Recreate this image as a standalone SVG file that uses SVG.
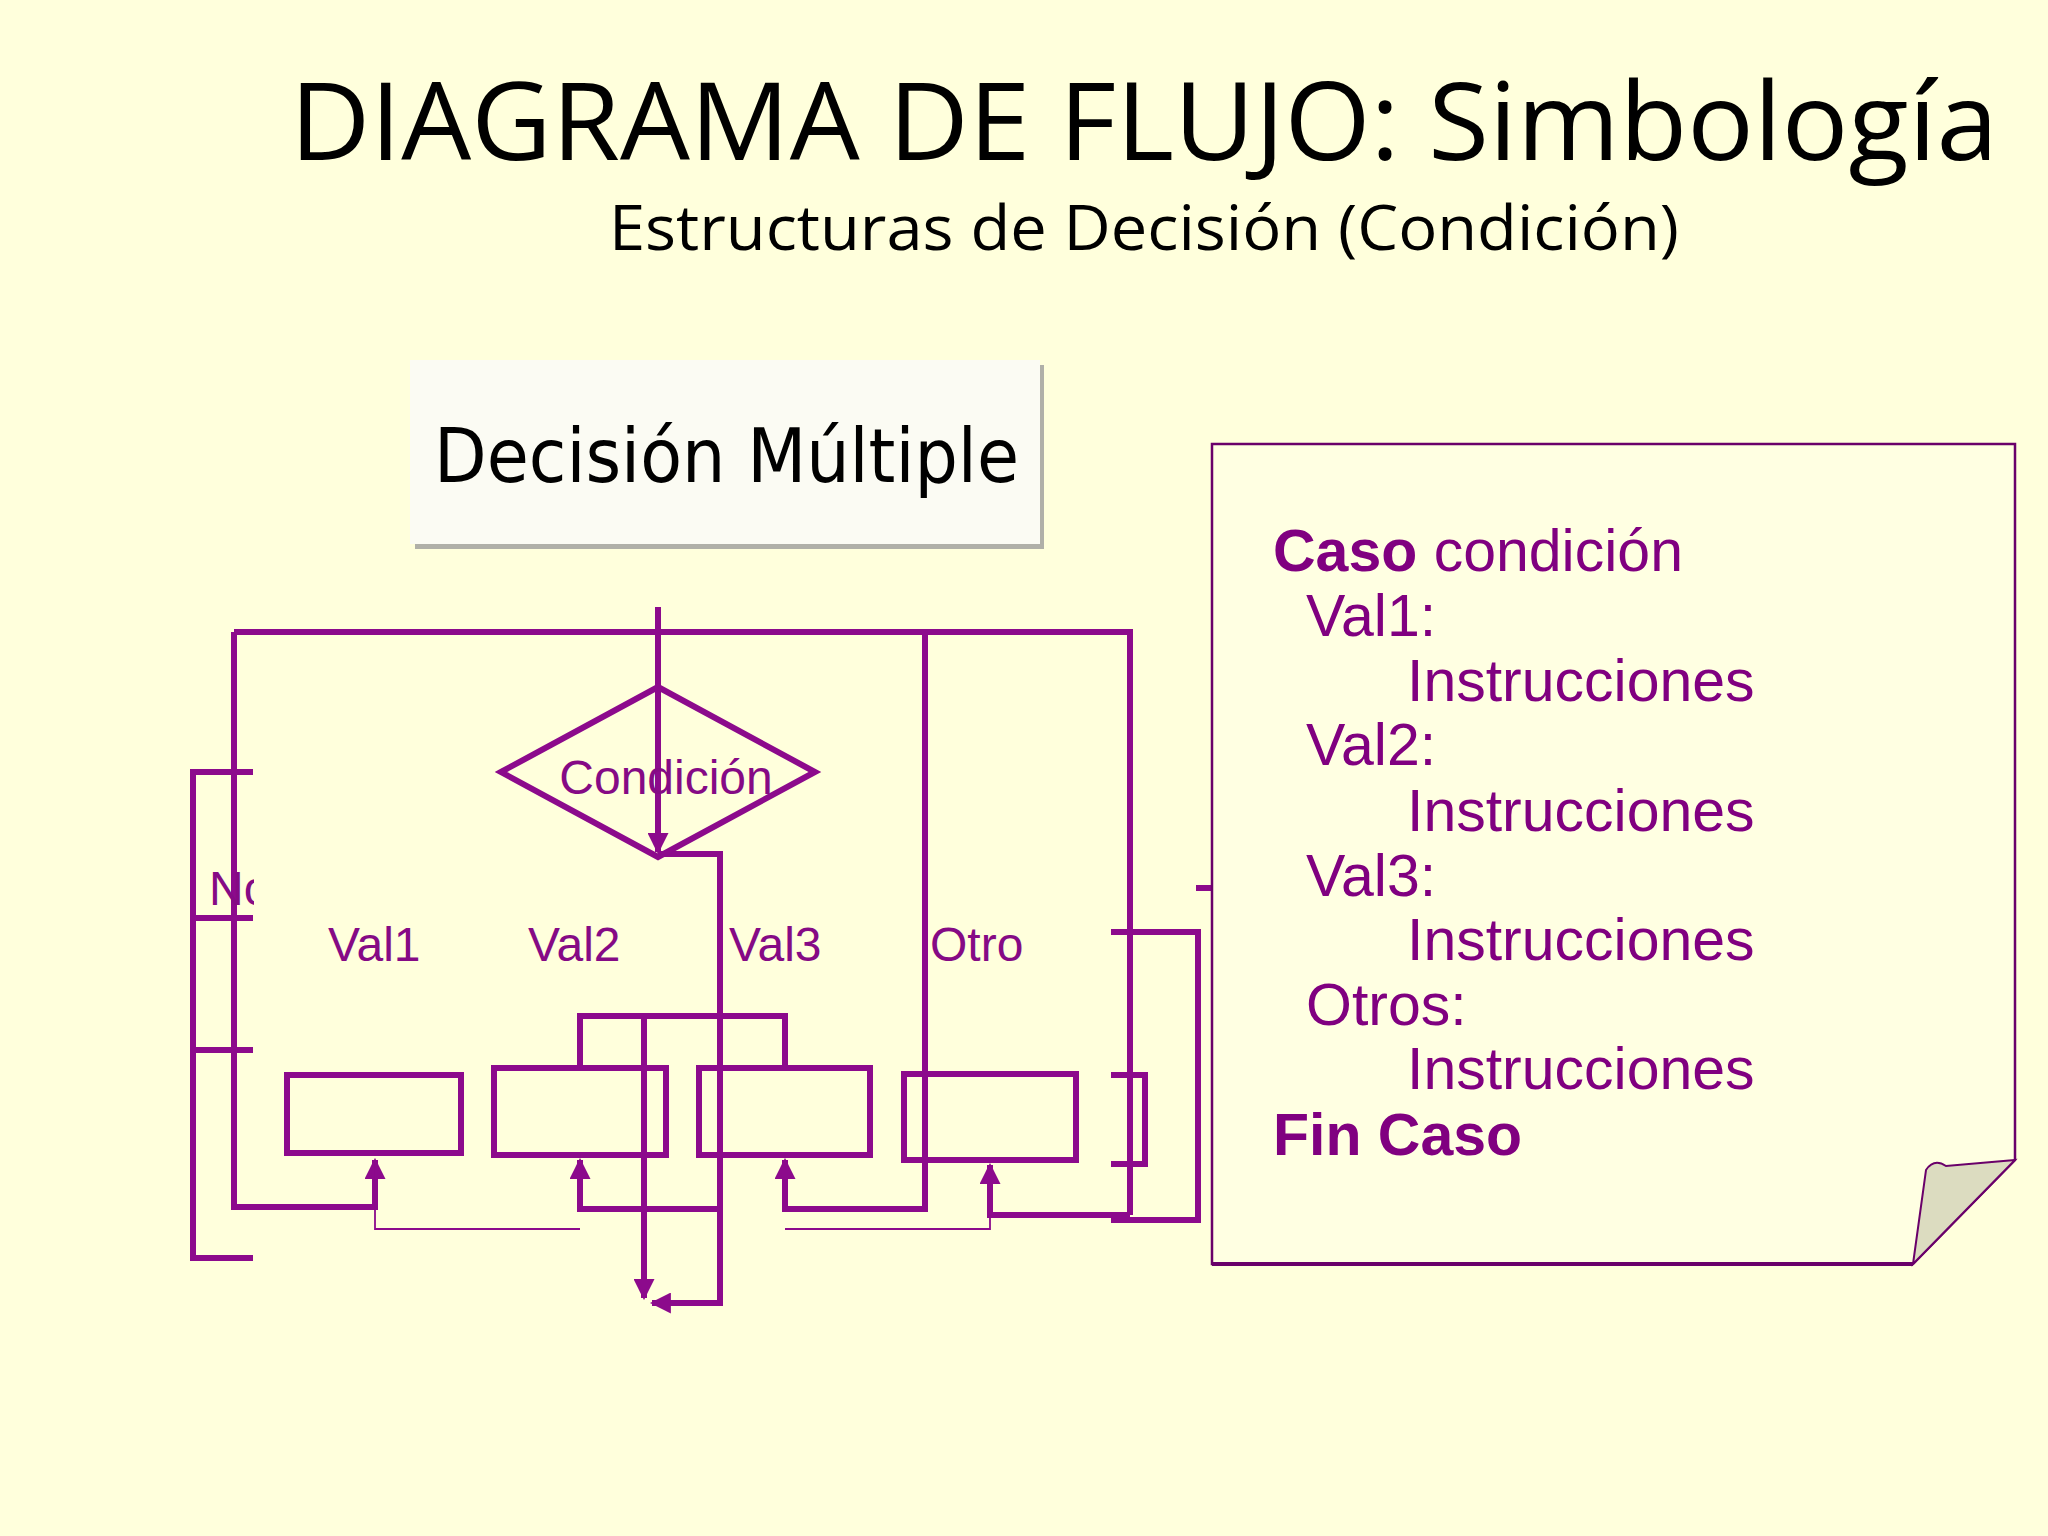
<svg xmlns="http://www.w3.org/2000/svg" width="2048" height="1536" viewBox="0 0 2048 1536">
<defs>
<style>
.l{fill:none;stroke:#8c0a8c;stroke-width:6}
.t{fill:none;stroke:#8c0a8c;stroke-width:1.8}
.p{font-family:"Liberation Sans",Arial,sans-serif;fill:#850a85;font-size:48px}
.n{font-family:"Liberation Sans",Arial,sans-serif;fill:#800080;font-size:59px}
</style>
<marker id="a" viewBox="0 0 10 10" refX="9" refY="5" markerWidth="3.5" markerHeight="3.5" orient="auto"><path d="M0,0L10,5L0,10z" fill="#8c0a8c"/></marker>
<clipPath id="c"><rect x="0" y="850" width="254" height="80"/></clipPath>
</defs>
<rect width="2048" height="1536" fill="#ffffdc"/>
<text x="290" y="160" textLength="1708" lengthAdjust="spacingAndGlyphs" font-family="'Open Sans','DejaVu Sans',sans-serif" font-size="108" fill="#000">DIAGRAMA DE FLUJO: Simbología</text>
<text x="609" y="250" textLength="1070" lengthAdjust="spacingAndGlyphs" font-family="'Open Sans','DejaVu Sans',sans-serif" font-size="62" fill="#000">Estructuras de Decisión (Condición)</text>
<g id="title-box">
<rect x="415" y="365" width="629" height="184" fill="#b0b0a8"/>
<rect x="410" y="360" width="630" height="184" fill="#fbfbf3"/>
<text x="434" y="482" textLength="585" lengthAdjust="spacingAndGlyphs" font-family="'Comic Sans MS','DejaVu Sans',sans-serif" font-size="74" fill="#000">Decisión Múltiple</text>
</g>
<g id="connectors">
<path class="l" d="M658,607V852" marker-end="url(#a)"/>
<path class="l" d="M234,632H1130V1215M925,632V1209H785V1160" marker-end="url(#a)"/>
<path class="l" d="M234,632V1207H375V1160" marker-end="url(#a)"/>
<path class="l" d="M720,1209H580V1160" marker-end="url(#a)"/>
<path class="l" d="M1130,1215H990V1165" marker-end="url(#a)"/>
<path class="l" d="M658,854H720V1303H652" marker-end="url(#a)"/>
<path class="l" d="M644,1016V1298" marker-end="url(#a)"/>
<path class="l" d="M580,1068V1016H785V1068"/>
<path class="t" d="M375,1160V1229H580M785,1229H990V1215"/>
<path class="l" d="M253,772H193V1258H253M193,918H253M193,1050H253"/>
<path class="l" d="M1111,932H1198V1220H1111M1111,1075H1145V1164H1111M1196,888H1212"/>
</g>
<g id="condicion">
<path class="l" d="M501,772L658,687L815,772L658,857Z"/>
<text class="p" x="666" y="794" text-anchor="middle">Condición</text>
</g>
<g id="boxes">
<rect class="l" x="287" y="1075" width="174" height="78"/>
<rect class="l" x="494" y="1068" width="172" height="87"/>
<rect class="l" x="699" y="1068" width="171" height="87"/>
<rect class="l" x="904" y="1074" width="172" height="86"/>
</g>
<g id="labels">
<text class="p" x="209" y="905" clip-path="url(#c)">No</text>
<text class="p" x="328" y="961">Val1</text>
<text class="p" x="528" y="961">Val2</text>
<text class="p" x="729" y="961">Val3</text>
<text class="p" x="930" y="961">Otro</text>
</g>
<g id="note">
<path d="M1212,444H2015V1160L1913,1264H1212Z" fill="#ffffe2" stroke="#6a006a" stroke-width="2.5"/>
<path d="M1212,1264H1913" stroke="#6a006a" stroke-width="4"/>
<path d="M1913,1264L1926,1170Q1934,1158 1946,1166L2015,1160Z" fill="#dcdcc0" stroke="#6a006a" stroke-width="2"/>
<text class="n" x="1273" y="571"><tspan font-weight="bold">Caso</tspan> condición</text>
<text class="n" x="1306" y="636">Val1:</text>
<text class="n" x="1407" y="701">Instrucciones</text>
<text class="n" x="1306" y="765">Val2:</text>
<text class="n" x="1407" y="831">Instrucciones</text>
<text class="n" x="1306" y="896">Val3:</text>
<text class="n" x="1407" y="960">Instrucciones</text>
<text class="n" x="1306" y="1025">Otros:</text>
<text class="n" x="1407" y="1089">Instrucciones</text>
<text class="n" x="1273" y="1155" font-weight="bold">Fin Caso</text>
</g>
</svg>
